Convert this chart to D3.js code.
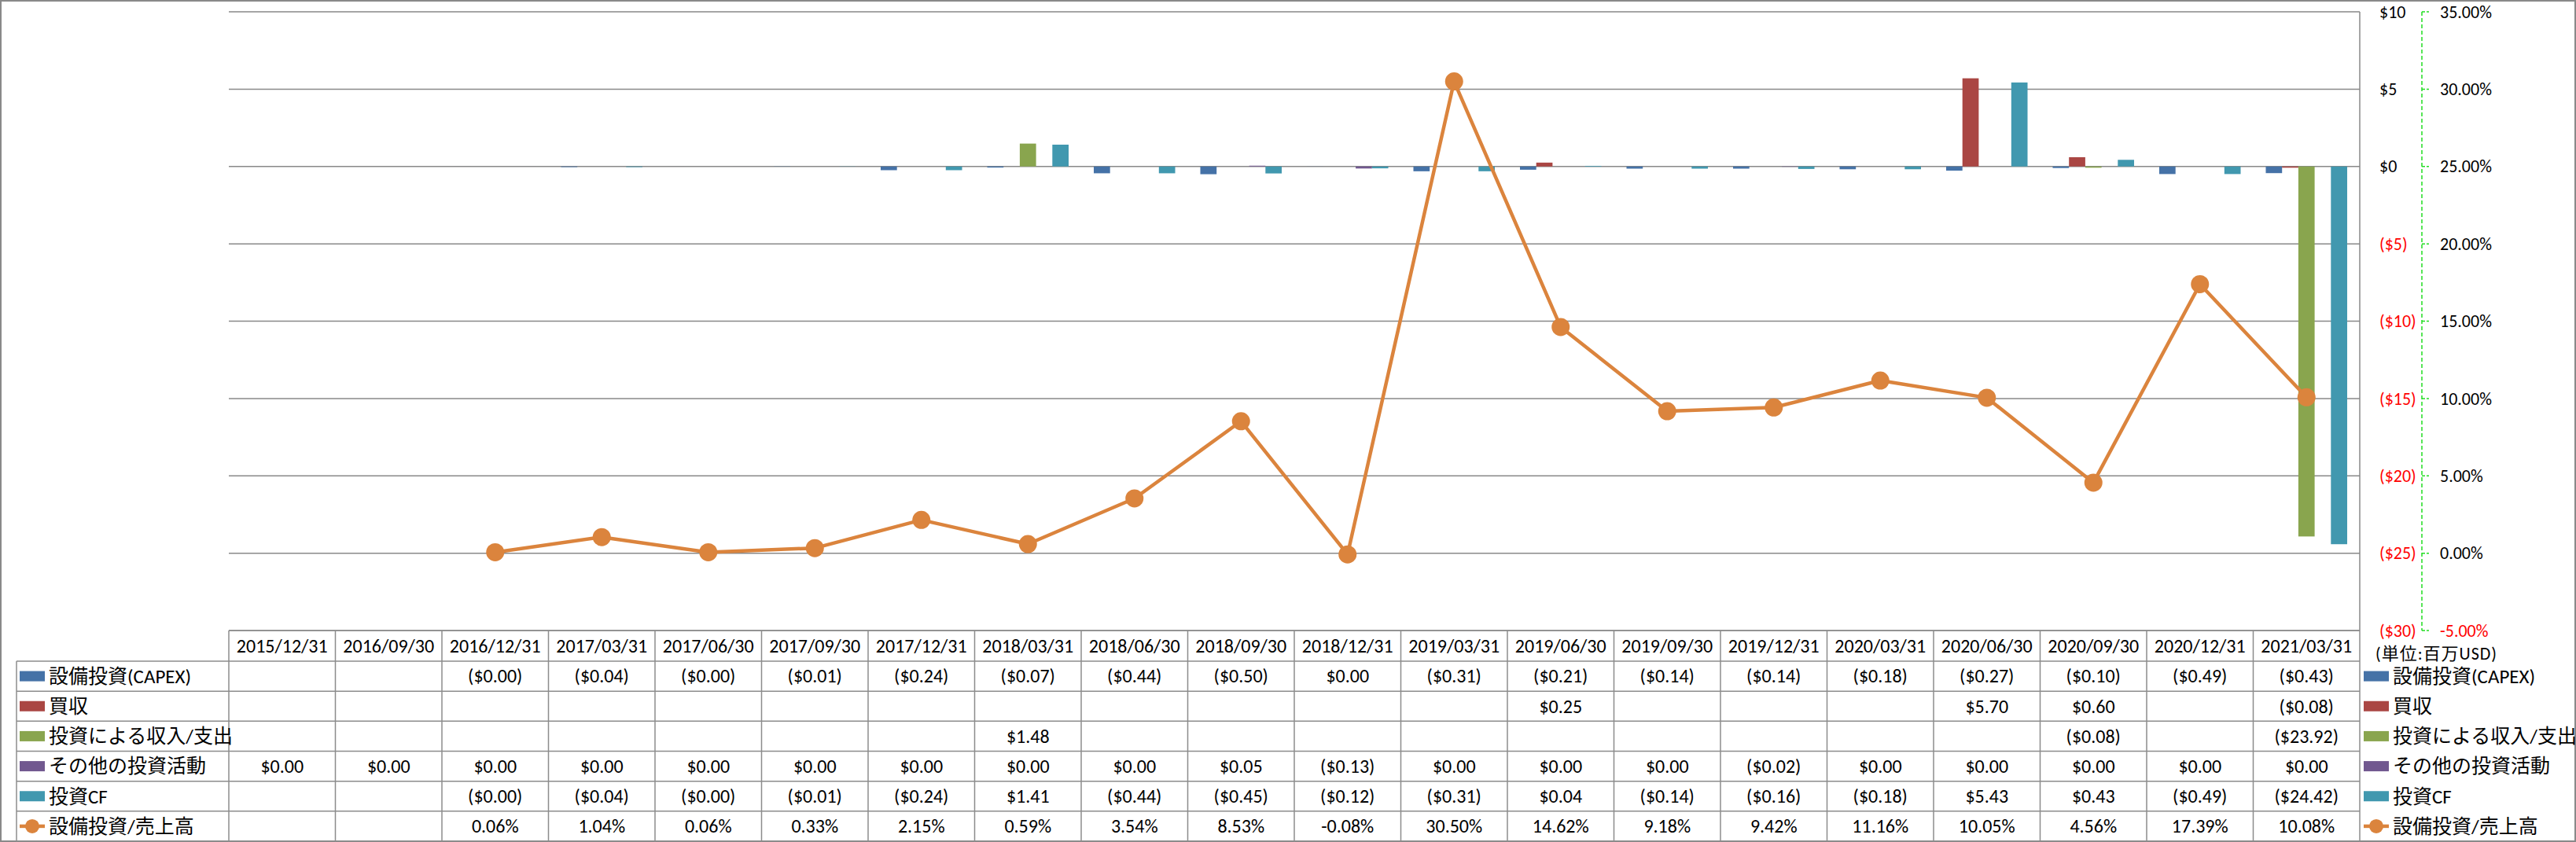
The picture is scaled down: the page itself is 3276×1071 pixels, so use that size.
<!DOCTYPE html>
<html>
<head>
<meta charset="utf-8">
<script src="https://cdn.jsdelivr.net/npm/d3@7"></script>
<style>
  html, body { margin: 0; padding: 0; background: #fff; }
  svg { display: block; }
  text { font-family: Carlito, Lato, "Noto Sans CJK JP", sans-serif; }
</style>
</head>
<body>
<svg id="chart" width="3276" height="1071"></svg>
<script>
// ---------------- DATA ----------------
const categories = ["2015/12/31","2016/09/30","2016/12/31","2017/03/31","2017/06/30","2017/09/30","2017/12/31","2018/03/31","2018/06/30","2018/09/30","2018/12/31","2019/03/31","2019/06/30","2019/09/30","2019/12/31","2020/03/31","2020/06/30","2020/09/30","2020/12/31","2021/03/31"];

const seriesNames = ["設備投資(CAPEX)","買収","投資による収入/支出","その他の投資活動","投資CF"];
const lineName = "設備投資/売上高";

const capex      = [null, null, -0.001, -0.04, -0.001, -0.01, -0.24, -0.07, -0.44, -0.50, 0.004, -0.31, -0.21, -0.14, -0.14, -0.18, -0.27, -0.10, -0.49, -0.43];
const acquisition= [null, null, null, null, null, null, null, null, null, null, null, null, 0.25, null, null, null, 5.70, 0.60, null, -0.08];
const investIO   = [null, null, null, null, null, null, null, 1.48, null, null, null, null, null, null, null, null, null, -0.08, null, -23.92];
const otherInv   = [0.00, 0.00, 0.00, 0.00, 0.00, 0.00, 0.00, 0.00, 0.00, 0.05, -0.13, 0.00, 0.00, 0.00, -0.02, 0.00, 0.00, 0.00, 0.00, 0.00];
const investCF   = [null, null, -0.001, -0.04, -0.001, -0.01, -0.24, 1.41, -0.44, -0.45, -0.12, -0.31, 0.04, -0.14, -0.16, -0.18, 5.43, 0.43, -0.49, -24.42];
const capexRatio = [null, null, 0.0006, 0.0104, 0.0006, 0.0033, 0.0215, 0.0059, 0.0354, 0.0853, -0.0008, 0.3050, 0.1462, 0.0918, 0.0942, 0.1116, 0.1005, 0.0456, 0.1739, 0.1008];

const leftTicks  = [10, 5, 0, -5, -10, -15, -20, -25, -30];
const rightTicks = [0.35, 0.30, 0.25, 0.20, 0.15, 0.10, 0.05, 0.00, -0.05];
const unitLabel = "(単位:百万USD)";

const seriesColors = ["#4572A7", "#AA4643", "#89A54E", "#71588F", "#4198AF"];
const lineColor = "#DB843D";

// ---------------- SETUP ----------------
const barSeries = [capex, acquisition, investIO, otherInv, investCF];
const svg = d3.select("#chart");
const W = 3276, H = 1071;
const plotL = 291, plotR = 3001, plotT = 15, plotB = 802;
const gridColor = "#898989";

const loc = d3.formatLocale({decimal: ".", thousands: ",", grouping: [3], currency: ["$", ""], minus: "-"});
const pct = loc.format(".2%");
const money = v => (v < 0 ? "($" + Math.abs(v).toFixed(2) + ")" : "$" + v.toFixed(2));
const moneyTick = v => (v < 0 ? "($" + Math.abs(v) + ")" : "$" + v);

const x = d3.scaleBand().domain(categories).range([plotL, plotR]).paddingInner(0).paddingOuter(0);
const groupW = x.bandwidth() * 0.764;
const xs = d3.scaleBand().domain(d3.range(seriesNames.length)).range([0, groupW]);
const groupOff = (x.bandwidth() - groupW) / 2;
const y = d3.scaleLinear().domain([-30, 10]).range([plotB, plotT]);
const y2 = d3.scaleLinear().domain([-0.05, 0.35]).range([plotB, plotT]);

// outer border
svg.append("rect").attr("x", 1).attr("y", 1).attr("width", W - 2).attr("height", H - 2)
  .attr("fill", "#fff").attr("stroke", gridColor).attr("stroke-width", 2);

// gridlines
svg.append("g").selectAll("line").data(leftTicks).join("line")
  .attr("x1", plotL).attr("x2", plotR)
  .attr("y1", d => y(d)).attr("y2", d => y(d))
  .attr("stroke", gridColor).attr("stroke-width", 1.5);

// primary axis line at right of plot
svg.append("line").attr("x1", plotR).attr("x2", plotR).attr("y1", plotT).attr("y2", plotB)
  .attr("stroke", gridColor).attr("stroke-width", 1.5);

// bars
barSeries.forEach((vals, si) => {
  svg.append("g").selectAll("rect")
    .data(vals.map((v, i) => ({v, c: categories[i]})).filter(d => d.v != null))
    .join("rect")
    .attr("x", d => x(d.c) + groupOff + xs(si))
    .attr("width", xs.bandwidth())
    .attr("y", d => Math.min(y(d.v), y(0)))
    .attr("height", d => Math.abs(y(d.v) - y(0)))
    .attr("fill", seriesColors[si]);
});

// line series
const lineData = capexRatio.map((v, i) => ({v, c: categories[i]}));
const lineGen = d3.line().defined(d => d.v != null)
  .x(d => x(d.c) + x.bandwidth() / 2).y(d => y2(d.v));
svg.append("path").datum(lineData).attr("d", lineGen)
  .attr("fill", "none").attr("stroke", lineColor).attr("stroke-width", 4.5).attr("stroke-linejoin", "round");
svg.append("g").selectAll("circle").data(lineData.filter(d => d.v != null)).join("circle")
  .attr("cx", d => x(d.c) + x.bandwidth() / 2).attr("cy", d => y2(d.v)).attr("r", 11.5)
  .attr("fill", lineColor);

// left ($) axis labels on right side
svg.append("g").selectAll("text").data(leftTicks).join("text")
  .attr("x", 3026).attr("y", d => y(d)).attr("dy", "0.35em")
  .attr("font-size", 22).attr("fill", d => d < 0 ? "#FF0000" : "#000")
  .text(moneyTick);

// secondary (%) axis: green dashed
const ax2 = svg.append("g");
ax2.append("line").attr("x1", 3080).attr("x2", 3080).attr("y1", y2(0.35)).attr("y2", y2(-0.05))
  .attr("stroke", "#22DD22").attr("stroke-width", 1.5).attr("stroke-dasharray", "5,3");
ax2.selectAll("line.tick").data(rightTicks).join("line").attr("class", "tick")
  .attr("x1", 3080).attr("x2", 3089).attr("y1", d => y2(d)).attr("y2", d => y2(d))
  .attr("stroke", "#22DD22").attr("stroke-width", 1.5).attr("stroke-dasharray", "4,2");
ax2.selectAll("text").data(rightTicks).join("text")
  .attr("x", 3103).attr("y", d => y2(d)).attr("dy", "0.35em")
  .attr("font-size", 22).attr("fill", d => d < 0 ? "#FF0000" : "#000")
  .text(d => pct(d));

// unit label
svg.append("text").attr("x", 3021).attr("y", 831).attr("dy", "0.35em")
  .attr("font-size", 22).attr("letter-spacing", 1).attr("fill", "#000")
  .attr("font-family", "'Noto Sans CJK JP', sans-serif")
  .text(unitLabel);

// ---------------- DATA TABLE ----------------
const tblL = 21, tblT = 802, hdrB = 841, tblB = 1070;
const rowKeys = seriesNames.concat([lineName]);
const rowVals = barSeries.concat([capexRatio]);
const ry = d3.scaleBand().domain(rowKeys).range([hdrB, tblB]);
const tbl = svg.append("g");
const border = "#8c8c8c";

// header row top line
tbl.append("line").attr("x1", plotL).attr("x2", plotR).attr("y1", tblT).attr("y2", tblT)
  .attr("stroke", border).attr("stroke-width", 1.5);
// row lines
tbl.selectAll("line.row").data(rowKeys.map(k => ry(k)).concat([tblB])).join("line").attr("class", "row")
  .attr("x1", tblL).attr("x2", plotR).attr("y1", d => d).attr("y2", d => d)
  .attr("stroke", border).attr("stroke-width", 1.5);
// vertical lines
tbl.append("line").attr("x1", tblL).attr("x2", tblL).attr("y1", hdrB).attr("y2", tblB)
  .attr("stroke", border).attr("stroke-width", 1.5);
tbl.selectAll("line.col").data(categories.map(c => x(c)).concat([plotR])).join("line").attr("class", "col")
  .attr("x1", d => d).attr("x2", d => d).attr("y1", tblT).attr("y2", tblB)
  .attr("stroke", border).attr("stroke-width", 1.5);

// headers
tbl.selectAll("text.hdr").data(categories).join("text").attr("class", "hdr")
  .attr("x", d => x(d) + x.bandwidth() / 2).attr("y", (tblT + hdrB) / 2).attr("dy", "0.35em")
  .attr("text-anchor", "middle").attr("font-size", 24).attr("fill", "#000").text(d => d);

// cells
rowKeys.forEach((k, ri) => {
  const vals = rowVals[ri];
  const isLine = ri === rowKeys.length - 1;
  tbl.append("g").selectAll("text")
    .data(vals.map((v, i) => ({v, c: categories[i]})).filter(d => d.v != null))
    .join("text")
    .attr("x", d => x(d.c) + x.bandwidth() / 2)
    .attr("y", ry(k) + ry.bandwidth() / 2).attr("dy", "0.35em")
    .attr("text-anchor", "middle").attr("font-size", 24).attr("fill", "#000")
    .text(d => isLine ? pct(d.v) : money(d.v));
});

// legend keys (row headers + right legend)
function drawKey(g, kx, ky, i) {
  if (i < seriesNames.length) {
    g.append("rect").attr("x", kx).attr("y", ky - 6.5).attr("width", 32).attr("height", 13)
      .attr("fill", seriesColors[i]);
  } else {
    g.append("line").attr("x1", kx).attr("x2", kx + 32).attr("y1", ky).attr("y2", ky)
      .attr("stroke", lineColor).attr("stroke-width", 4.5);
    g.append("circle").attr("cx", kx + 16).attr("cy", ky).attr("r", 9).attr("fill", lineColor);
  }
}
rowKeys.forEach((k, i) => {
  const cy = ry(k) + ry.bandwidth() / 2;
  drawKey(tbl, 25, cy, i);
  tbl.append("text").attr("x", 62).attr("y", cy).attr("dy", "0.35em")
    .attr("font-size", 25).attr("fill", "#000").text(k);
  drawKey(tbl, 3006, cy, i);
  tbl.append("text").attr("x", 3043).attr("y", cy).attr("dy", "0.35em")
    .attr("font-size", 25).attr("fill", "#000").text(k);
});
</script>
</body>
</html>
